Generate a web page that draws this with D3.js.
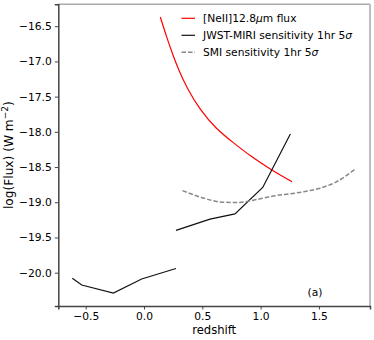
<!DOCTYPE html>
<html><head><meta charset="utf-8">
<script src="https://cdn.jsdelivr.net/npm/d3@7"></script>
<style>
body{margin:0;background:#fff;}
text{font-family:"DejaVu Sans",sans-serif;}
</style></head>
<body><svg id="c" width="374" height="340"></svg>
<script>
const xTicks = [-0.5, 0.0, 0.5, 1.0, 1.5];
const yTicks = [-16.5, -17.0, -17.5, -18.0, -18.5, -19.0, -19.5, -20.0];
const neZ = [0.14, 0.195, 0.25, 0.30, 0.366, 0.48, 0.62, 0.77, 0.91, 1.09, 1.27];
const neF = [-16.37, -16.66, -16.92, -17.13, -17.37, -17.69, -17.96, -18.16, -18.34, -18.54, -18.71];
const jwstZ1 = [-0.615, -0.534, -0.263, -0.02, 0.274];
const jwstF1 = [-20.08, -20.175, -20.29, -20.09, -19.94];
const jwstZ2 = [0.274, 0.566, 0.78, 1.018, 1.255];
const jwstF2 = [-19.40, -19.24, -19.165, -18.79, -18.03];
const smiZ = [0.33, 0.51, 0.65, 0.795, 0.94, 1.08, 1.37, 1.51, 1.65, 1.81];
const smiF = [-18.835, -18.94, -18.995, -19.005, -18.97, -18.92, -18.85, -18.80, -18.71, -18.53];
const legendLabels = ["[NeII]12.8", "JWST-MIRI sensitivity 1hr 5", "SMI sensitivity 1hr 5"];

const svg = d3.select("#c");
const L = 58.3, R = 370, T = 4.3, B = 306;
const x = d3.scaleLinear().domain([-0.735, 1.938]).range([L, R]);
const y = d3.scaleLinear().domain([-20.473, -16.189]).range([B, T]);

const mk = (a, b) => a.map((v, i) => [v, b[i]]);

// spines
svg.append("line").attr("x1", L).attr("x2", R).attr("y1", T).attr("y2", T).attr("stroke", "#aaa").attr("stroke-width", 1.5);
svg.append("line").attr("x1", R).attr("x2", R).attr("y1", T).attr("y2", B).attr("stroke", "#aaa").attr("stroke-width", 1.5);

// axes
const fmt = d => d3.format(".1f")(d).replace("-", "\u2212");
const xa = svg.append("g").attr("transform", `translate(0,${B})`)
  .call(d3.axisBottom(x).tickValues(xTicks).tickSize(3.5).tickPadding(3).tickFormat(fmt));
const ya = svg.append("g").attr("transform", `translate(${L},0)`)
  .call(d3.axisLeft(y).tickValues(yTicks).tickSize(3.5).tickPadding(3).tickFormat(fmt));
[xa, ya].forEach(g => {
  g.select(".domain").attr("stroke", "#444").attr("stroke-width", 1.5);
  g.selectAll(".tick line").attr("stroke", "#444").attr("stroke-width", 1);
  g.selectAll(".tick text").attr("fill", "#000").style("font-size", "10.7px").style("font-family", "DejaVu Sans");
});

// data lines
const basis = d3.line().x(d => x(d[0])).y(d => y(d[1])).curve(d3.curveBasis);
const smooth = d3.line().x(d => x(d[0])).y(d => y(d[1])).curve(d3.curveMonotoneX);
const lin = d3.line().x(d => x(d[0])).y(d => y(d[1]));
svg.append("path").datum(mk(neZ, neF)).attr("d", basis).attr("fill", "none").attr("stroke", "#ff0000").attr("stroke-width", 1.2);
svg.append("path").datum(mk(jwstZ1, jwstF1)).attr("d", lin).attr("fill", "none").attr("stroke", "#111").attr("stroke-width", 1.2);
svg.append("path").datum(mk(jwstZ2, jwstF2)).attr("d", lin).attr("fill", "none").attr("stroke", "#111").attr("stroke-width", 1.2);
svg.append("path").datum(mk(smiZ, smiF)).attr("d", smooth)
  .attr("fill", "none").attr("stroke", "#888").attr("stroke-width", 1.5).attr("stroke-dasharray", "4.5,2");

// legend
const lg = svg.append("g");
const colors = ["#ff0000", "#111", "#888"];
const dashes = [null, null, "4.5,2"];
legendLabels.forEach((lab, i) => {
  const yy = 18.3 + i * 17;
  lg.append("line").attr("x1", 181.5).attr("x2", 195).attr("y1", yy).attr("y2", yy)
    .attr("stroke", colors[i]).attr("stroke-width", i === 2 ? 1.5 : 1.2).attr("stroke-dasharray", dashes[i]);
  const t = lg.append("text").attr("x", 203).attr("y", yy + 3.8).style("font-size", "10.7px").attr("fill", "#000");
  if (i === 0) {
    t.append("tspan").text(lab);
    t.append("tspan").style("font-style", "italic").text("\u03bc");
    t.append("tspan").text("m flux");
  } else {
    t.append("tspan").text(lab);
    t.append("tspan").style("font-style", "italic").text("\u03c3");
  }
});

// axis labels
svg.append("text").attr("x", (L + R) / 2).attr("y", 333.5).attr("text-anchor", "middle").style("font-size", "11.6px").text("redshift");
const yl = svg.append("text").attr("transform", `translate(13,${(T + B) / 2}) rotate(-90)`).attr("text-anchor", "middle").style("font-size", "12.2px");
yl.append("tspan").text("log(Flux) (W m");
yl.append("tspan").attr("dy", -5).style("font-size", "9px").text("\u22122");
yl.append("tspan").attr("dy", 5).text(")");

svg.append("text").attr("x", 315).attr("y", 295.5).attr("text-anchor", "middle").style("font-size", "10.7px").text("(a)");
</script></body></html>
